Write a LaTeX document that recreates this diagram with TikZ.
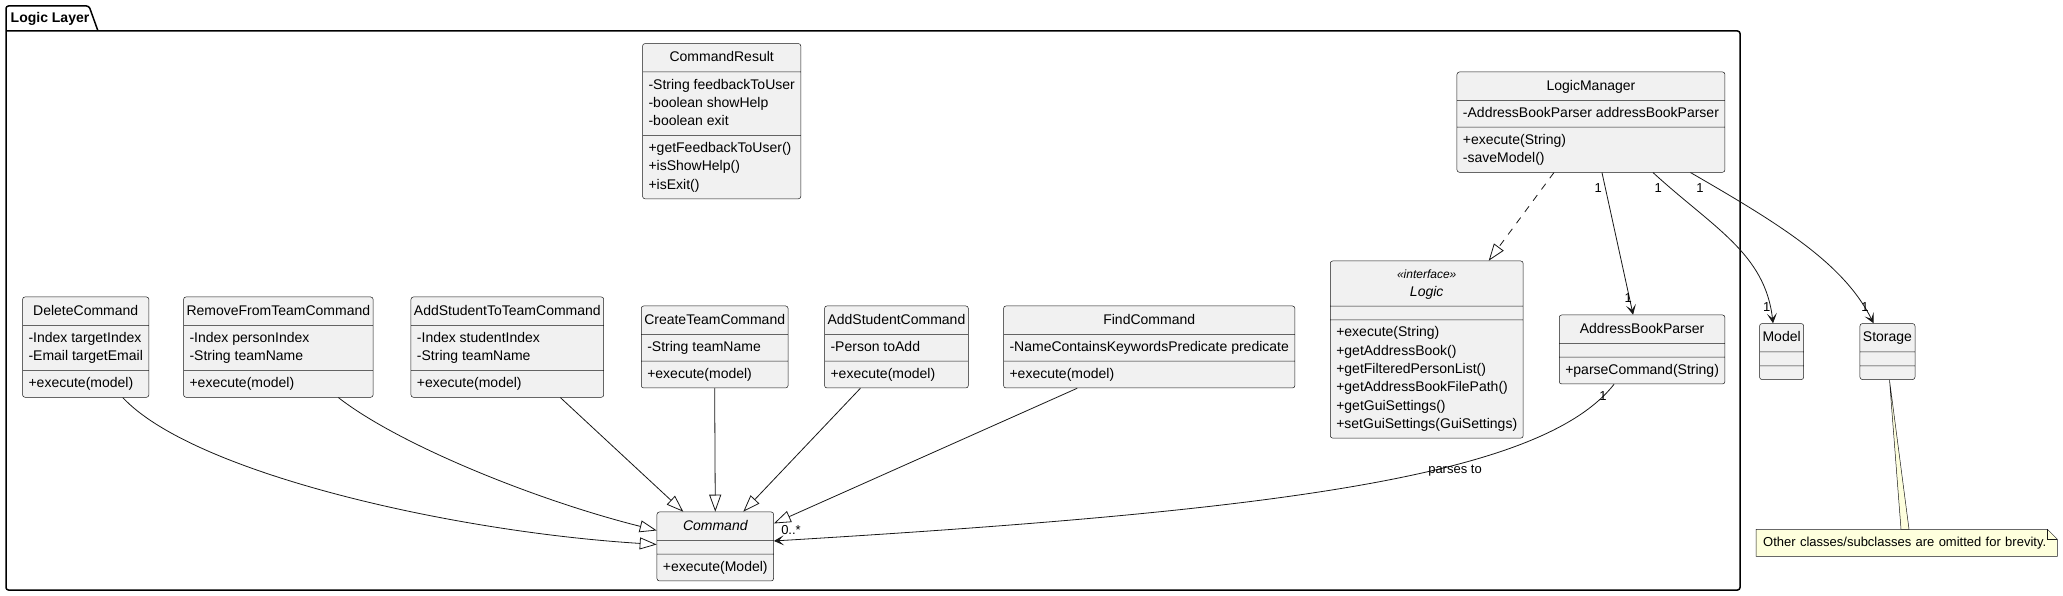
\documentclass[tikz,border=0pt]{standalone}
\usepackage{fontspec}
\setmainfont{Liberation Sans}
\usetikzlibrary{shapes.multipart,arrows.meta,positioning,calc}

\definecolor{umlfill}{RGB}{241,241,241}
\definecolor{umlline}{RGB}{24,24,24}
\definecolor{notefill}{RGB}{254,255,221}

% compartments of a class box
\newcommand{\umltitle}[1]{{\renewcommand{\arraystretch}{1.09}\begin{tabular}{@{\hspace{-3pt}}c@{\hspace{-3pt}}}#1\end{tabular}}}
\newcommand{\umlrows}[1]{\begin{tabular}{@{}l@{}}#1\end{tabular}}

\tikzset{
  umlclass/.style={draw=umlline, line width=0.5pt, fill=umlfill, rounded corners=2.5pt,
    rectangle split, rectangle split parts=3, rectangle split part align={center,left,left},
    rectangle split empty part height=0pt, rectangle split empty part depth=0pt,
    inner xsep=6pt, inner ysep=4pt, anchor=north west, font=\fontsize{14}{18.3}\selectfont},
  inherit/.style={umlline, line width=0.8pt, -{Triangle[open, length=17pt, width=12pt]}},
  realize/.style={inherit, dash pattern=on 7pt off 7pt},
  assoc/.style={umlline, line width=0.8pt, -{Stealth[length=10pt, width=10pt, inset=5pt]}},
  mult/.style={font=\fontsize{13}{15}\selectfont, inner sep=0pt},
  notebox/.style={fill=notefill, anchor=north west, minimum width=301pt, minimum height=26.7pt,
    inner xsep=7pt, text width=287pt, font=\fontsize{13}{15}\selectfont},
}

\begin{document}
\begin{tikzpicture}[x=1pt, y=-1pt]
  \path[use as bounding box, fill=white] (0,0) rectangle (2063,596);

  % package frame
  \draw[line width=1.5pt, rounded corners=2.5pt] (6,31) -- (1740,31) -- (1740,590) -- (6,590) -- (6,6) -- (89,6) -- (98,31);
  \node[font=\fontsize{14}{16}\selectfont\bfseries, inner sep=0pt] (pkg) at (50,18.5) {Logic Layer};

  % classes
  \node[umlclass] (cmdresult) at (642.3,43.3) {\umltitle{CommandResult}
    \nodepart{two}\umlrows{-String feedbackToUser\\-boolean showHelp\\-boolean exit}
    \nodepart{three}\umlrows{+getFeedbackToUser()\\+isShowHelp()\\+isExit()}};
  \node[umlclass] (lm) at (1456.7,71.7) {\umltitle{LogicManager}
    \nodepart{two}\umlrows{-AddressBookParser addressBookParser}
    \nodepart{three}\umlrows{+execute(String)\\-saveModel()}};
  \node[umlclass] (logic) at (1330,260.7) {\begin{tabular}{@{}c@{}}{\fontsize{12}{18.3}\selectfont\itshape «interface»}\\\itshape Logic\end{tabular}
    \nodepart{two}
    \nodepart{three}\umlrows{+execute(String)\\+getAddressBook()\\+getFilteredPersonList()\\+getAddressBookFilePath()\\+getGuiSettings()\\+setGuiSettings(GuiSettings)}};
  \node[umlclass] (abp) at (1559,314.7) {\umltitle{AddressBookParser}
    \nodepart{two}
    \nodepart{three}\umlrows{+parseCommand(String)}};
  \node[umlclass] (model) at (1759.3,323.3) {\umltitle{Model} \nodepart{two} \nodepart{three}};
  \node[umlclass] (storage) at (1859.7,323.3) {\umltitle{Storage} \nodepart{two} \nodepart{three}};

  \node[umlclass] (delete) at (22.3,296.7) {\umltitle{DeleteCommand}
    \nodepart{two}\umlrows{-Index targetIndex\\-Email targetEmail}
    \nodepart{three}\umlrows{+execute(model)}};
  \node[umlclass] (remove) at (183.3,296.7) {\umltitle{RemoveFromTeamCommand}
    \nodepart{two}\umlrows{-Index personIndex\\-String teamName}
    \nodepart{three}\umlrows{+execute(model)}};
  \node[umlclass] (addtoteam) at (410.7,296.7) {\umltitle{AddStudentToTeamCommand}
    \nodepart{two}\umlrows{-Index studentIndex\\-String teamName}
    \nodepart{three}\umlrows{+execute(model)}};
  \node[umlclass] (create) at (641,305.7) {\umltitle{CreateTeamCommand}
    \nodepart{two}\umlrows{-String teamName}
    \nodepart{three}\umlrows{+execute(model)}};
  \node[umlclass] (addstudent) at (824.3,305.7) {\umltitle{AddStudentCommand}
    \nodepart{two}\umlrows{-Person toAdd}
    \nodepart{three}\umlrows{+execute(model)}};
  \node[umlclass] (find) at (1003.3,305.7) {\umltitle{FindCommand}
    \nodepart{two}\umlrows{-NameContainsKeywordsPredicate predicate}
    \nodepart{three}\umlrows{+execute(model)}};
  \node[umlclass] (cmd) at (656.7,511.7) {\umltitle{\itshape Command}
    \nodepart{two}
    \nodepart{three}\umlrows{+execute(Model)}};

  % note
  \node[notebox] (note) at (1756,529.3) {Other classes/subclasses are omitted for brevity.};
  \fill[white] ([xshift=-10pt]note.north east) -- (note.north east) -- ([yshift=-10pt]note.north east) -- cycle;
  \draw[umlline, line width=0.5pt] (note.north west) -- ([xshift=-10pt]note.north east) -- ([yshift=-10pt]note.north east) -- (note.south east) -- (note.south west) -- cycle;
  \draw[umlline, line width=0.5pt] ([xshift=-10pt]note.north east) |- ([yshift=-10pt]note.north east);
  \filldraw[fill=notefill, draw=umlline, line width=0.5pt] ([xshift=2pt]storage.south) -- ([xshift=145pt]note.north west) -- ([xshift=153pt]note.north west) -- cycle;

  % generalisations
  \draw[inherit] ([xshift=37pt]delete.south) .. controls +(70,75) and +(-207,-13) .. ([yshift=2pt]cmd.west);
  \draw[inherit] ([xshift=60pt]remove.south) .. controls +(60,47) and +(-120,-30) .. ([yshift=16pt]cmd.west);
  \draw[inherit] ([xshift=53pt]addtoteam.south) -- ([xshift=-32pt]cmd.north);
  \draw[inherit] (create.south) -- (cmd.north);
  \draw[inherit] ([xshift=-36pt]addstudent.south) -- ([xshift=28pt]cmd.north);
  \draw[inherit] ([xshift=-72pt]find.south) -- ([yshift=23pt]cmd.east);
  \draw[realize] ([xshift=-37pt]lm.south) -- ([xshift=62pt]logic.north);

  % associations
  \draw[assoc] ([xshift=11pt]lm.south) -- ([xshift=-9pt]abp.north);
  \draw[assoc] ([xshift=62pt]lm.south) .. controls +(60,55) and +(-8,-70) .. ([xshift=-8.6pt]model.north);
  \draw[assoc] ([xshift=99.5pt]lm.south) .. controls +(90,52) and +(-30,-60) .. ([xshift=-13.9pt]storage.north);
  \draw[assoc] ([xshift=-28pt]abp.south) .. controls +(-73,93) and +(500,-30) .. ([yshift=5.5pt]cmd.east);

  % multiplicities
  \node[mult] (m1) at (1598.3,188.3) {1};
  \node[mult] (m2) at (1658.3,188.3) {1};
  \node[mult] (m3) at (1700,188.3) {1};
  \node[mult] (m4) at (1628.3,298.3) {1};
  \node[mult] (m5) at (1766.7,306.7) {1};
  \node[mult] (m6) at (1865,306.7) {1};
  \node[mult] (m7) at (1603,395.7) {1};
  \node[mult] (m8) at (791,530) {0..*};
  \node[mult] (parses) at (1455,471) {parses to};
\end{tikzpicture}
\end{document}
